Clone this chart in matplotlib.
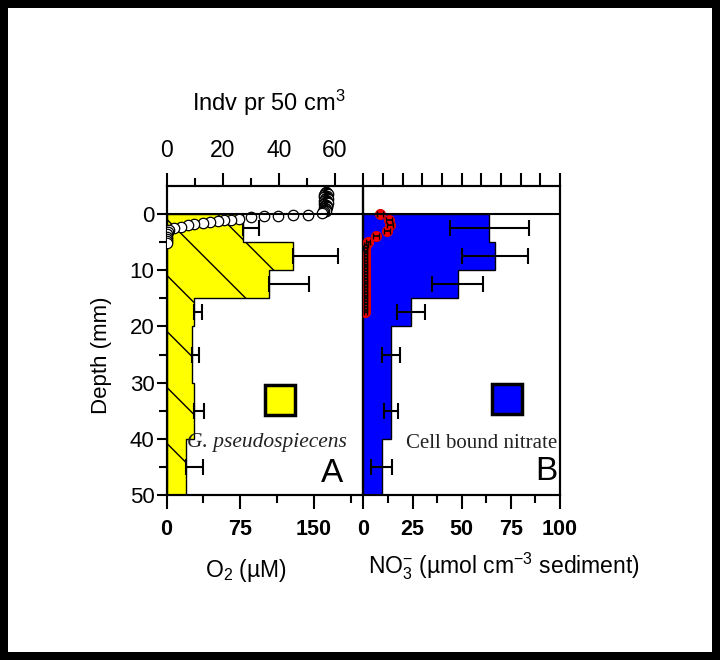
import numpy as np
import matplotlib
matplotlib.use('Agg')
import matplotlib.pyplot as plt
from matplotlib.patches import Polygon
from matplotlib.lines import Line2D
from matplotlib.transforms import IdentityTransform

plt.rcParams['font.family'] = 'Liberation Sans'
plt.rcParams['mathtext.fontset'] = 'custom'
plt.rcParams['mathtext.rm'] = 'Liberation Sans'
plt.rcParams['mathtext.it'] = 'Liberation Sans:italic'
plt.rcParams['mathtext.bf'] = 'Liberation Sans:bold'

# depth bins (mm) used by both core panels
depth_edges = [0, 5, 10, 15, 20, 30, 40, 50]
depth_mid = [2.5, 7.5, 12.5, 17.5, 25, 35, 45]

# G. pseudospiecens, individuals per 50 cm3 (top axis of panel A)
forams = [27.1, 45.0, 36.4, 9.9, 9.2, 9.9, 6.9]
forams_err = [5.9, 16.0, 14.3, 2.6, 2.3, 3.5, 6.2]

# cell bound nitrate (panel B)
nitrate = [64.0, 66.9, 47.9, 24.1, 14.0, 14.0, 9.2]
nitrate_err = [20.1, 16.6, 12.8, 7.1, 4.5, 3.7, 5.5]

# O2 microprofile (uM)
o2_depth = [-3.9, -3.8, -3.7, -3.6, -3.5, -3.4, -3.3, -3.2, -3.1, -3.0, -2.9, -2.8,
            -2.7, -2.6, -2.5, -2.4, -2.3, -2.2, -2.1, -2.0, -1.9, -1.8, -1.7, -1.6,
            -1.5, -1.4, -1.3, -1.2, -1.1, -1.0, -0.9, -0.8, -0.7, -0.6, -0.5, -0.4,
            -0.2, 0.2, 0.25, 0.3, 0.35, 0.5,
            0.8, 1.0, 1.1, 1.3, 1.4, 1.6, 1.8, 2.0, 2.3, 2.5, 2.8, 3.2, 3.6, 4.0,
            4.4, 4.8, 5.2]
o2_conc = [162, 163, 161, 162, 164, 160, 163, 161, 162, 160, 163, 162,
           161, 164, 162, 163, 160, 161, 163, 162, 164, 160, 161, 162,
           163, 161, 162, 163, 160, 161, 162, 160, 161, 162, 160, 159,
           158, 144, 128.5, 113, 99.7, 86,
           74, 66, 59, 52, 44, 37, 28.5, 21.7, 15, 8, 3, 1.5, 0.8, 0.5,
           0.3, 0.2, 0.1]
o2_err = [0.4, 0.4, 0.4, 0.4, 0.4, 0.4, 0.4, 0.4, 0.4, 0.4, 0.4, 0.4,
          0.4, 0.4, 0.4, 0.4, 0.4, 0.4, 0.4, 0.4, 0.4, 0.4, 0.4, 0.4,
          0.4, 0.4, 0.4, 0.4, 0.4, 0.4, 0.4, 0.4, 0.4, 0.4, 0.4, 0.4,
          0, 0, 0, 0, 0, 0,
          0.6, 0.6, 0.6, 0.6, 0.6, 0.6, 0.6, 0.6, 0.6, 0.6, 0, 0, 0, 0,
          0, 0, 0]

# nitrate microprofile (red)
no3_depth = [0.0, 1.1, 1.9, 3.0, 3.9, 4.9, 5.5, 6.0, 6.5, 7.0, 7.5, 8.0, 8.5,
             9.0, 9.5, 10.0, 10.5, 11.0, 11.5, 12.0, 12.5, 13.0, 13.5, 14.0,
             14.5, 15.0, 15.5, 16.0, 16.5, 17.0, 17.5]
no3_conc = [8.4, 12.8, 13.6, 11.8, 6.2, 2.1, 1.1, 1.0, 0.9, 1.0, 0.9, 0.9, 1.0,
            0.9, 0.9, 1.0, 0.9, 0.9, 0.9, 1.0, 0.9, 0.9, 1.0, 0.9, 0.9,
            0.9, 1.0, 0.9, 0.9, 1.0, 0.9]
no3_err = [1.5, 1.5, 1.5, 1.5, 1.5, 1.0, 1.0, 1.0, 0.8, 0.8, 0.8, 0.8, 0.8,
           0.8, 0.8, 0.8, 0.8, 0.8, 0.8, 0.8, 0.8, 0.8, 0.8, 0.8, 0.8,
           0.8, 0.8, 0.8, 0.8, 0.8, 0.8]

o2_ticks = [0, 75, 150]
indv_ticks = [0, 20, 40, 60]
no3_ticks = [0, 25, 50, 75, 100]
depth_ticks = [0, 10, 20, 30, 40, 50]


def step_outline(edges, vals):
    xs, ys = [0], [edges[0]]
    for i, v in enumerate(vals):
        xs += [v, v]
        ys += [edges[i], edges[i + 1]]
    xs.append(0)
    ys.append(edges[-1])
    return np.column_stack([xs, ys])


def style_axis(ax):
    for s in ax.spines.values():
        s.set_linewidth(1.5)


fig = plt.figure(figsize=(7.2, 6.6), dpi=100)
fig.patch.set_edgecolor('black')
fig.patch.set_linewidth(11.5)

ax_a = fig.add_axes([0.23125, 0.25, 0.2729, 0.46818])
top_a = ax_a.twiny()
ax_b = fig.add_axes([0.50486, 0.25, 0.2729, 0.46818])
top_b = ax_b.twiny()

for main, top in [(ax_a, top_a), (ax_b, top_b)]:
    main.set_zorder(top.get_zorder() + 1)
    main.patch.set_visible(False)
    main.set_ylim(50, -5)
    style_axis(main)
    style_axis(top)

# ---- panel A ----
ax_a.set_xlim(0, 200)
top_a.set_xlim(0, 70)

poly_a = Polygon(step_outline(depth_edges, forams), closed=True,
                 facecolor='#ffff00', edgecolor='black', linewidth=1.0,
                 transform=top_a.transData, zorder=2)
top_a.add_patch(poly_a)

# sparse "\" hatch clipped to the bars
bb = top_a.bbox
H = bb.height
for off in np.arange(-H - 60, bb.width + 40, 56):
    ln = Line2D([bb.x0 + off, bb.x0 + off + H], [bb.y1, bb.y0],
                transform=IdentityTransform(), color='black', lw=1.0, zorder=3)
    ln.set_clip_path(poly_a)
    top_a.add_line(ln)

top_a.errorbar(forams, depth_mid, xerr=[np.zeros(len(forams)), forams_err],
               fmt='none', ecolor='black', elinewidth=1.5, capsize=6,
               capthick=1.5, zorder=4)

ax_a.errorbar(o2_conc, o2_depth, yerr=o2_err, fmt='o', ms=7.5, mfc='white',
              mec='black', mew=0.9, ecolor='black', elinewidth=1.0,
              capsize=2, capthick=1.0, zorder=3)
ax_a.axhline(0, color='black', lw=1.5, zorder=5)

ax_a.set_xticks(o2_ticks)
ax_a.set_xticklabels([str(t) for t in o2_ticks], fontweight='bold')
ax_a.set_xticks([37.5, 112.5, 187.5], minor=True)
ax_a.set_yticks(depth_ticks)
ax_a.set_yticks([5, 15, 25, 35, 45], minor=True)
ax_a.tick_params(axis='x', which='major', direction='out', length=10, width=1.5,
                 labelsize=15.5, pad=7)
ax_a.tick_params(axis='x', which='minor', direction='out', length=6, width=1.5)
ax_a.tick_params(axis='y', which='major', direction='out', length=7.5, width=1.5,
                 labelsize=16, pad=1.2)
ax_a.tick_params(axis='y', which='minor', direction='out', length=5.5, width=1.5)

top_a.set_xticks(indv_ticks)
top_a.set_xticks([10, 30, 50], minor=True)
top_a.tick_params(axis='x', which='major', direction='out', length=9.5, width=1.5,
                  labelsize=16.5, pad=8)
top_a.tick_params(axis='x', which='minor', direction='out', length=5.5, width=1.5)

ax_a.plot([0.578], [0.307], marker='s', ms=21.5, mfc='#ffff00', mec='black',
          mew=2.5, transform=ax_a.transAxes, zorder=6)
ax_a.text(0.509, 0.155, 'G. pseudospiecens', transform=ax_a.transAxes,
          ha='center', va='baseline', fontsize=15.5, fontstyle='italic',
          family='Liberation Serif', color='#222222', zorder=6)
ax_a.text(0.898, 0.042, 'A', transform=ax_a.transAxes, ha='right',
          va='baseline', fontsize=24, zorder=6)

# ---- panel B ----
ax_b.set_xlim(0, 100)
top_b.set_xlim(0, 100)

poly_b = Polygon(step_outline(depth_edges, nitrate), closed=True,
                 facecolor='#0000ff', edgecolor='black', linewidth=1.0, zorder=2)
ax_b.add_patch(poly_b)
ax_b.errorbar(nitrate, depth_mid, xerr=nitrate_err, fmt='none', ecolor='black',
              elinewidth=1.5, capsize=6, capthick=1.5, zorder=4)
ax_b.plot(no3_conc, no3_depth, 'o', ms=7.2, mfc='#ff0000', mec='#dd0000',
          mew=0.8, zorder=5)
ax_b.errorbar(no3_conc, no3_depth, xerr=no3_err, fmt='none', ecolor='black',
              elinewidth=1.2, capsize=2, capthick=1.0, zorder=6)
ax_b.axhline(0, color='black', lw=1.5, zorder=7)

ax_b.set_xticks(no3_ticks)
ax_b.set_xticklabels([str(t) for t in no3_ticks], fontweight='bold')
ax_b.set_xticks([12.5, 37.5, 62.5, 87.5], minor=True)
ax_b.tick_params(axis='x', which='major', direction='out', length=10, width=1.5,
                 labelsize=15.5, pad=7)
ax_b.tick_params(axis='x', which='minor', direction='out', length=6, width=1.5)
ax_b.set_yticks([])
ax_b.tick_params(axis='y', left=False, labelleft=False)

top_b.set_xticks(np.arange(0, 101, 10))
top_b.tick_params(axis='x', which='major', direction='out', length=9.5, width=1.5,
                  labeltop=False)

ax_b.plot([0.730], [0.311], marker='s', ms=21.5, mfc='#0000ff', mec='black',
          mew=2.5, transform=ax_b.transAxes, zorder=8)
ax_b.text(0.600, 0.153, 'Cell bound nitrate', transform=ax_b.transAxes,
          ha='center', va='baseline', fontsize=15, family='Liberation Serif',
          color='#222222', zorder=8)
ax_b.text(0.985, 0.0485, 'B', transform=ax_b.transAxes, ha='right',
          va='baseline', fontsize=24, zorder=8)

# ---- axis titles ----
fig.text(0.3733, 0.8318, r'Indv pr 50 cm$^{3}$', ha='center', va='baseline',
         fontsize=17)
fig.text(0.341, 0.1258, r'O$_{2}$ (µM)', ha='center', va='baseline', fontsize=16.5)
fig.text(0.6997, 0.1318, r'NO$_{3}^{-}$ (µmol cm$^{-3}$ sediment)', ha='center',
         va='baseline', fontsize=16.5)
fig.text(0.1403, 0.4621, 'Depth (mm)', rotation=90, ha='center', va='center',
         fontsize=16)

fig.savefig('out.png', dpi=100, edgecolor=fig.get_edgecolor(),
            facecolor='white')
